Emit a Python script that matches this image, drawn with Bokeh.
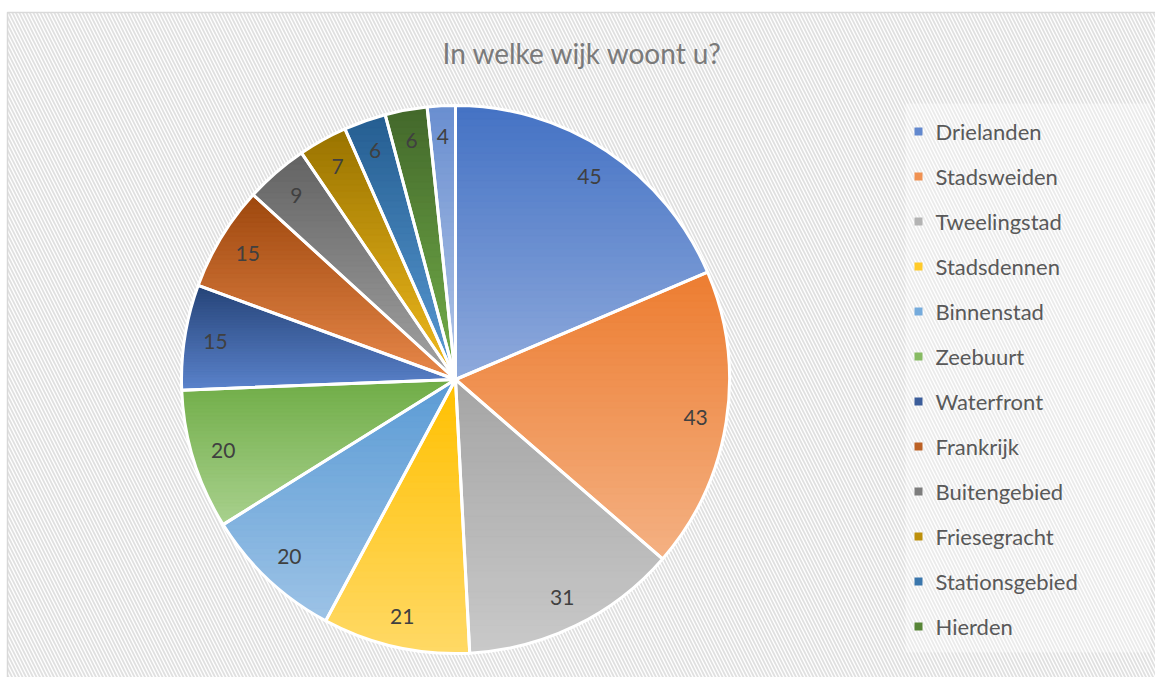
import math
import numpy as np
from bokeh.plotting import figure
from bokeh.models import ColumnDataSource, Range1d
from bokeh.core.properties import value
from bokeh.embed import file_html
from bokeh.resources import INLINE

# ---------------- data ----------------
title_text = "In welke wijk woont u?"
wijken = ["Drielanden", "Stadsweiden", "Tweelingstad", "Stadsdennen", "Binnenstad",
          "Zeebuurt", "Waterfront", "Frankrijk", "Buitengebied", "Friesegracht",
          "Stationsgebied", "Hierden", ""]
aantallen = [45, 43, 31, 21, 20, 20, 15, 15, 9, 7, 6, 6, 4]
legend_wijken = wijken[:12]
kleur_boven = ["#4472C4", "#ED7D31", "#A5A5A5", "#FFC000", "#5B9BD5", "#70AD47",
               "#264478", "#9E480E", "#636363", "#997300", "#255E91", "#43682B", "#698ED0"]
kleur_onder = ["#8FAADC", "#F4B183", "#C9C9C9", "#FFD966", "#9DC3E6", "#A9D18E",
               "#5B83CC", "#E8884A", "#A3A3A3", "#F2BC1E", "#5A9BD5", "#74B04A", "#B4C7E7"]

# ---------------- layout ----------------
W, H = 1155, 677


def X(sx):
    return sx


def Y(sy):
    return H - sy


p = figure(width=W, height=H, x_range=Range1d(0, W), y_range=Range1d(0, H),
           output_backend="svg", toolbar_location=None, min_border=0)
p.axis.visible = False
p.grid.visible = False
p.outline_line_color = None
p.background_fill_color = "white"
p.border_fill_color = "white"

# chart area with hatched background
p.quad(left=X(7), right=W + 20, top=Y(12), bottom=-20, fill_color="white",
       line_color="#d9d9d9", line_width=1.5, hatch_pattern="\\",
       hatch_color="#e0e0e0", hatch_scale=7, hatch_weight=1.8)
# lighter legend panel
p.quad(left=X(905), right=X(1150), top=Y(103), bottom=Y(652),
       fill_color="white", fill_alpha=0.35, line_color=None)


def hex2rgb(h):
    h = h.lstrip("#")
    return tuple(int(h[i:i + 2], 16) for i in (0, 2, 4))


def mix(c1, c2, t):
    a, b = hex2rgb(c1), hex2rgb(c2)
    return "#%02x%02x%02x" % tuple(int(round(a[i] + (b[i] - a[i]) * t)) for i in range(3))


# ---------------- pie ----------------
cx, cy, R = X(455), Y(379), 274
total = float(sum(aantallen))
cum = np.concatenate([[0], np.cumsum(aantallen)])
start = math.pi / 2 - 2 * math.pi * cum[:-1] / total
end = math.pi / 2 - 2 * math.pi * cum[1:] / total
mid = (start + end) / 2

src = ColumnDataSource(dict(start=start, end=end, top=kleur_boven, naam=wijken, n=aantallen))
p.wedge(x=cx, y=cy, radius=R, start_angle="start", end_angle="end", direction="clock",
        fill_color="top", line_color=None, source=src)


def clip_half(pts, inside, cval):
    out = []
    for i in range(len(pts)):
        cur, prev = pts[i], pts[i - 1]
        ci, pi_ = inside(cur), inside(prev)
        if ci:
            if not pi_:
                t = (cval - prev[1]) / (cur[1] - prev[1])
                out.append((prev[0] + t * (cur[0] - prev[0]), cval))
            out.append(cur)
        elif pi_:
            t = (cval - prev[1]) / (cur[1] - prev[1])
            out.append((prev[0] + t * (cur[0] - prev[0]), cval))
    return out


bxs, bys, bcols = [], [], []
for i in range(len(aantallen)):
    nseg = max(6, int(abs(start[i] - end[i]) * 180 / math.pi * 2))
    th = np.linspace(start[i], end[i], nseg)
    poly = [(cx, cy)] + [(cx + R * math.cos(a), cy + R * math.sin(a)) for a in th]
    ys = [q[1] for q in poly]
    ymin, ymax = min(ys), max(ys)
    nb = 40
    h = (ymax - ymin) / nb
    for k in range(nb):
        lo = ymin + k * h
        hi = lo + h + 0.7
        part = clip_half(poly, lambda q: q[1] >= lo, lo)
        if len(part) < 3:
            continue
        part = clip_half(part, lambda q: q[1] <= hi, hi)
        if len(part) < 3:
            continue
        t = (ymax - (lo + h / 2)) / (ymax - ymin)
        bxs.append([q[0] for q in part])
        bys.append([q[1] for q in part])
        bcols.append(mix(kleur_boven[i], kleur_onder[i], t))

p.patches(xs=bxs, ys=bys, fill_color=bcols, line_color=bcols, line_width=0.6)

# white separators and rim
p.wedge(x=cx, y=cy, radius=R, start_angle="start", end_angle="end", direction="clock",
        fill_color=None, line_color="white", line_width=3, source=src)

# data labels
d = 0.887 * R
p.text(x=cx + d * np.cos(mid), y=cy + d * np.sin(mid), text=[str(v) for v in aantallen],
       text_align="center", text_baseline="middle", text_font=value("Lato"),
       text_font_size="21px", text_color="#404040")

# ---------------- title ----------------
p.text(x=[X(582)], y=[Y(52)], text=[title_text], text_align="center", text_baseline="middle",
       text_font=value("Lato"), text_font_size="28px", text_color="#7a7a7a")

# ---------------- legend ----------------
rows = [Y(131 + 45 * i) for i in range(len(legend_wijken))]
p.scatter(x=[X(918)] * len(rows), y=rows, marker="square", size=8,
          fill_color=[mix(kleur_boven[i], kleur_onder[i], 0.4) for i in range(len(rows))],
          line_color=None)
p.text(x=[X(935)] * len(rows), y=rows, text=legend_wijken, text_align="left",
       text_baseline="middle", text_font=value("Lato"), text_font_size="22px",
       text_color="#595959")

open("out.html", "w").write(file_html(p, INLINE))
